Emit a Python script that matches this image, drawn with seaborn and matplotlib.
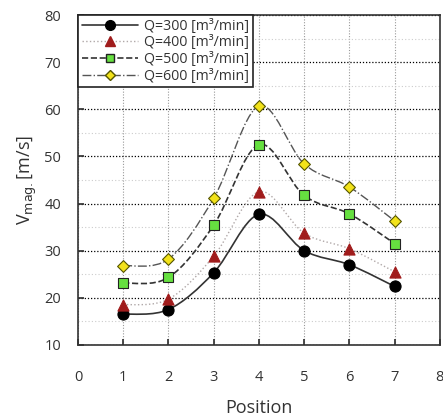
import numpy as np
import pandas as pd
import matplotlib
matplotlib.use("Agg")
import matplotlib.pyplot as plt
from matplotlib.path import Path
from matplotlib.patches import PathPatch
from matplotlib.lines import Line2D
import seaborn as sns

positions = [1, 2, 3, 4, 5, 6, 7]
q300 = [16.5, 17.5, 25.3, 37.7, 30.0, 27.0, 22.4]
q400 = [18.5, 19.7, 28.8, 42.5, 33.7, 30.4, 25.5]
q500 = [23.1, 24.3, 35.4, 52.5, 41.7, 37.8, 31.5]
q600 = [26.8, 28.2, 41.1, 60.7, 48.4, 43.5, 36.3]
labels = ["Q=300 [m³/min]", "Q=400 [m³/min]", "Q=500 [m³/min]", "Q=600 [m³/min]"]

sns.set_theme(style="white")
plt.rcParams['font.family'] = ['Open Sans', 'DejaVu Sans']

fig = plt.figure(figsize=(4.43, 4.18), dpi=100)
ax = fig.add_axes([0.176, 0.175, 0.817, 0.789])

styles = [
    dict(ls="-", lc="#333333", lw=1.2, marker="o", mfc="black", mec="black", ms=8),
    dict(ls=":", lc="#b0a8a8", lw=1.0, marker="^", mfc="#a01c1c", mec="#a01c1c", ms=8),
    dict(ls="--", lc="#333333", lw=1.2, marker="s", mfc="#66e040", mec="#222222", ms=7),
    dict(ls="-.", lc="#555555", lw=1.0, marker="D", mfc="#f2e21a", mec="#555500", ms=6),
]
series = [q300, q400, q500, q600]

def smooth_path(xs, ys):
    pts = np.column_stack([xs, ys]).astype(float)
    verts = [pts[0]]
    codes = [Path.MOVETO]
    n = len(pts)
    for i in range(n - 1):
        p0 = pts[i - 1] if i > 0 else pts[i]
        p1 = pts[i]
        p2 = pts[i + 1]
        p3 = pts[i + 2] if i + 2 < n else pts[i + 1]
        c1 = p1 + (p2 - p0) / 6.0
        c2 = p2 - (p3 - p1) / 6.0
        verts += [c1, c2, p2]
        codes += [Path.CURVE4] * 3
    return Path(verts, codes)

df = pd.DataFrame({"Position": positions * 4,
                   "V": q300 + q400 + q500 + q600,
                   "Q": sum([[l] * len(positions) for l in labels], [])})

handles = []
for vals, st, lab in zip(series, styles, labels):
    patch = PathPatch(smooth_path(positions, vals), facecolor="none",
                      edgecolor=st["lc"], lw=st["lw"], ls=st["ls"], zorder=2)
    ax.add_patch(patch)
    sub = df[df["Q"] == lab]
    sns.scatterplot(data=sub, x="Position", y="V", marker=st["marker"],
                    color=st["mfc"], edgecolor=st["mec"], linewidth=0.8,
                    s=st["ms"] ** 2, ax=ax, zorder=3, legend=False)
    handles.append(Line2D([0], [0], color=st["lc"], ls=st["ls"], lw=st["lw"],
                          marker=st["marker"], mfc=st["mfc"], mec=st["mec"],
                          ms=st["ms"] - 1))

ax.set_xlim(0, 8)
ax.set_ylim(10, 80)
ax.set_xticks(range(0, 9))
ax.set_yticks(range(10, 81, 10))
ax.set_yticks(range(15, 80, 10), minor=True)
ax.grid(True, which="major", axis="y", color="black", ls=(0, (1, 1.5)), lw=0.9)
ax.grid(True, which="major", axis="x", color="#999999", ls=(0, (1, 1.5)), lw=0.8)
ax.grid(True, which="minor", axis="y", color="#cccccc", ls=(0, (1, 2)), lw=0.8)
ax.set_axisbelow(True)
for sp in ax.spines.values():
    sp.set_color("#333333")
    sp.set_linewidth(1.2)
ax.tick_params(axis="both", which="major", direction="in", length=4, color="#333333",
               labelsize=10.5, labelcolor="#333333", left=True, bottom=True)
ax.tick_params(axis="y", which="major", pad=12)
ax.tick_params(axis="x", which="major", pad=18)
ax.tick_params(axis="both", which="minor", length=0)
ax.set_xlabel("Position", fontsize=13, color="#333333", labelpad=10)
ax.set_ylabel("V$_{\\mathrm{mag.}}$[m/s]", fontsize=13, color="#333333", labelpad=4)

leg = ax.legend(handles, labels, loc="upper left", bbox_to_anchor=(0, 1),
                frameon=True, fancybox=False, fontsize=10.2, handlelength=4.0,
                borderpad=0.25, labelspacing=0.12, handletextpad=0.4,
                borderaxespad=0)
leg.get_frame().set_edgecolor("#222222")
leg.get_frame().set_linewidth(1.2)
leg.get_frame().set_alpha(1)
for t in leg.get_texts():
    t.set_color("#333333")

fig.savefig("out.png", dpi=100)
